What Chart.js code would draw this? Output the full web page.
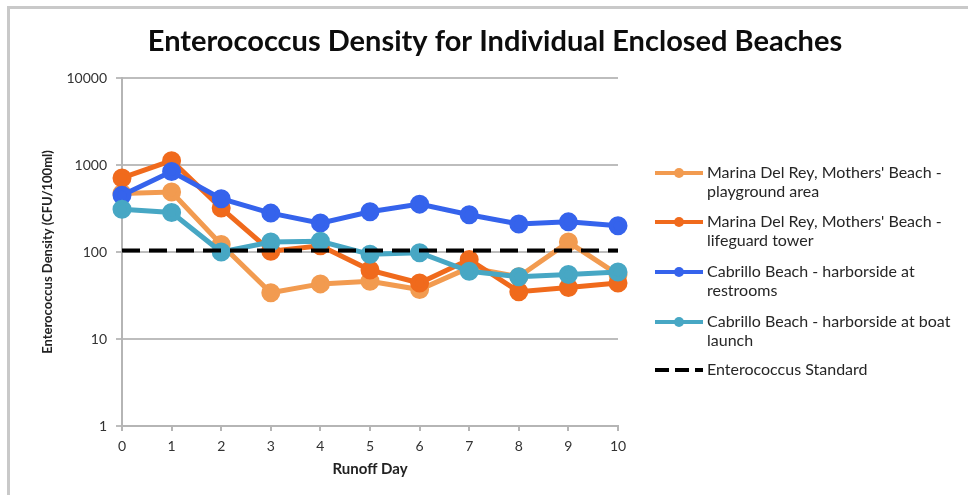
<!DOCTYPE html>
<html>
<head>
<meta charset="utf-8">
<script src="https://cdn.jsdelivr.net/npm/chart.js@4"></script>
<style>
  html, body { margin: 0; padding: 0; background: #fff; }
  #wrap { position: relative; width: 968px; height: 495px; }
  #frame { position: absolute; left: 7px; top: 6px; right: 0; bottom: 0;
           border-left: 3px solid #c9c9c9; border-top: 3px solid #c9c9c9; pointer-events: none; }
</style>
</head>
<body>
<div id="wrap">
  <canvas id="beachChart" width="968" height="495"></canvas>
  <div id="frame"></div>
</div>
<script>
// runoff days on the x axis
var days = ['0', '1', '2', '3', '4', '5', '6', '7', '8', '9', '10'];
var yTicks = [1, 10, 100, 1000, 10000];

// Enterococcus density, CFU/100ml
var playground = [470, 490, 122, 34, 43, 46, 37, 66, 52, 130, 55];
var lifeguard = [710, 1120, 320, 102, 118, 62, 44, 82, 35, 39, 44];
var restrooms = [450, 840, 410, 280, 215, 290, 355, 268, 210, 222, 200];
var boatLaunch = [310, 285, 100, 130, 133, 94, 98, 60, 52, 55, 59];
var standard = [104, 104, 104, 104, 104, 104, 104, 104, 104, 104, 104];

var chartTitle = 'Enterococcus Density for Individual Enclosed Beaches';
var legendLines = [
  ['Marina Del Rey, Mothers\' Beach -', 'playground area'],
  ['Marina Del Rey, Mothers\' Beach -', 'lifeguard tower'],
  ['Cabrillo Beach - harborside at', 'restrooms'],
  ['Cabrillo Beach - harborside at boat', 'launch'],
  ['Enterococcus Standard']
];

var FONT = 'Lato, "Open Sans", sans-serif';

function series(label, data, color, order) {
  return {
    label: label,
    data: data,
    borderColor: color,
    backgroundColor: color,
    pointBackgroundColor: color,
    pointBorderColor: color,
    borderWidth: 5,
    pointRadius: 7,
    pointHoverRadius: 7,
    tension: 0,
    order: order
  };
}

// title + legend drawn on the canvas (legend has two lines per entry like the original)
var sideLegend = {
  id: 'sideLegend',
  afterDraw: function (chart) {
    var c = chart.ctx;
    c.save();
    c.font = 'bold 29px ' + FONT;
    c.textAlign = 'center';
    c.textBaseline = 'middle';
    c.fillStyle = '#0d0d0d';
    c.fillText(chartTitle, 495, 42);

    var x0 = 655, x1 = 703, tx = 707;
    var rowY = [173, 222, 272, 322, 370];
    c.textAlign = 'left';
    c.font = '16px ' + FONT;
    chart.data.datasets.forEach(function (ds, i) {
      var y = rowY[i];
      c.strokeStyle = ds.borderColor;
      c.lineWidth = 4;
      if (ds.borderDash) c.setLineDash([14, 6]);
      c.beginPath();
      c.moveTo(x0, y);
      c.lineTo(x1, y);
      c.stroke();
      c.setLineDash([]);
      if (!ds.borderDash) {
        c.fillStyle = ds.borderColor;
        c.beginPath();
        c.arc((x0 + x1) / 2, y, 5, 0, Math.PI * 2);
        c.fill();
      }
      c.fillStyle = '#262626';
      legendLines[i].forEach(function (t, k) {
        c.fillText(t, tx, y + k * 19);
      });
    });
    c.restore();
  }
};

var ctx = document.getElementById('beachChart').getContext('2d');
var chart = new Chart(ctx, {
  type: 'line',
  data: {
    labels: days,
    datasets: [
      series('Marina Del Rey, Mothers\' Beach - playground area', playground, '#F29B50', 4),
      series('Marina Del Rey, Mothers\' Beach - lifeguard tower', lifeguard, '#F06A1C', 3),
      series('Cabrillo Beach - harborside at restrooms', restrooms, '#3563EC', 2),
      series('Cabrillo Beach - harborside at boat launch', boatLaunch, '#47A7C4', 1),
      {
        label: 'Enterococcus Standard',
        data: standard,
        borderColor: '#000000',
        backgroundColor: '#000000',
        borderWidth: 4,
        borderDash: [18, 9],
        pointRadius: 0,
        order: 0
      }
    ]
  },
  options: {
    responsive: false,
    animation: false,
    layout: { padding: { left: 36, right: 350, top: 78, bottom: 13 } },
    plugins: {
      legend: { display: false },
      tooltip: { enabled: false },
      title: { display: false }
    },
    scales: {
      x: {
        type: 'category',
        offset: false,
        grid: { drawOnChartArea: false, drawTicks: true, tickLength: 5, color: '#b5b5b5', lineWidth: 2 },
        border: { color: '#b5b5b5', width: 2 },
        ticks: { color: '#333', padding: 7, font: { family: FONT, size: 14 } },
        title: {
          display: true,
          text: 'Runoff Day',
          color: '#222',
          font: { family: FONT, size: 15, weight: 'bold' }
        },
        afterFit: function (s) { s.height = 56; }
      },
      y: {
        type: 'logarithmic',
        min: 1,
        max: 10000,
        grid: { color: '#bdbdbd', lineWidth: 2, tickLength: 6 },
        border: { color: '#b5b5b5', width: 2 },
        ticks: {
          color: '#333',
          padding: 9,
          font: { family: FONT, size: 14 },
          callback: function (v) { return String(v); }
        },
        afterBuildTicks: function (s) {
          s.ticks = yTicks.map(function (v) { return { value: v }; });
        },
        title: {
          display: true,
          text: 'Enterococcus Density (CFU/100ml)',
          color: '#222',
          font: { family: FONT, size: 13, weight: 'bold' }
        },
        afterFit: function (s) { s.width = 86; }
      }
    }
  },
  plugins: [sideLegend]
});
</script>
</body>
</html>
